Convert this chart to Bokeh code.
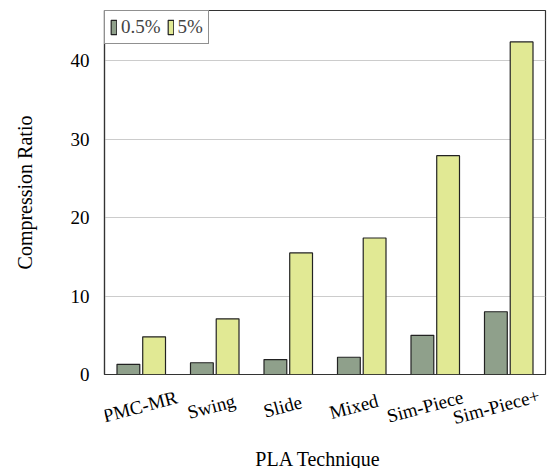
from bokeh.plotting import figure
from bokeh.layouts import column
from bokeh.models import ColumnDataSource, FactorRange, Range1d, FixedTicker, Legend, LegendItem
from bokeh.core.properties import value
from bokeh.transform import dodge
from bokeh.embed import file_html
from bokeh.resources import INLINE

categories = ["PMC-MR", "Swing", "Slide", "Mixed", "Sim-Piece", "Sim-Piece+"]
ratio_05 = [1.3, 1.5, 1.9, 2.2, 5.0, 8.0]
ratio_5 = [4.8, 7.1, 15.5, 17.4, 27.9, 42.4]
y_ticks = [0, 10, 20, 30, 40]

FONT = "Liberation Serif"
W = 559
LEFT, RIGHT = 104, 14

src = ColumnDataSource(dict(cat=categories, a=ratio_05, b=ratio_5))
xr = FactorRange(factors=categories, range_padding=0)

p = figure(width=W, height=386, output_backend="svg", toolbar_location=None,
           x_range=xr, y_range=Range1d(0, 46.4), min_border_left=LEFT,
           min_border_right=RIGHT, min_border_top=10, min_border_bottom=12)

r1 = p.vbar(x=dodge("cat", -0.175, range=xr), top="a", width=0.31, source=src,
            fill_color="#8fa08b", line_color="#222222", line_width=1.2)
r2 = p.vbar(x=dodge("cat", 0.175, range=xr), top="b", width=0.31, source=src,
            fill_color="#e1e994", line_color="#222222", line_width=1.2)

p.outline_line_color = "#333333"
p.outline_line_width = 1.2
p.xgrid.grid_line_color = None
p.ygrid.grid_line_color = "#cccccc"
p.ygrid.grid_line_width = 1
p.xaxis.visible = False

p.yaxis.ticker = FixedTicker(ticks=y_ticks)
p.yaxis.minor_tick_line_color = None
p.yaxis.major_tick_line_color = None
p.yaxis.axis_line_color = "#333333"
p.yaxis.axis_line_width = 1.2
p.yaxis.major_label_text_font = FONT
p.yaxis.major_label_text_font_size = "19px"
p.yaxis.major_label_text_color = "black"
p.yaxis.major_label_standoff = 9
p.yaxis.axis_label = "Compression Ratio"
p.yaxis.axis_label_text_font = FONT
p.yaxis.axis_label_text_font_size = "20px"
p.yaxis.axis_label_text_font_style = "normal"
p.yaxis.axis_label_text_color = "black"
p.yaxis.axis_label_standoff = 32

legend = Legend(items=[LegendItem(label="0.5%", renderers=[r1]),
                       LegendItem(label="5%", renderers=[r2])],
                location="top_left", orientation="horizontal")
legend.margin = 0
legend.padding = 5
legend.spacing = 6
legend.glyph_width = 7
legend.glyph_height = 18
legend.label_standoff = 4
legend.label_text_font = FONT
legend.label_text_font_size = "19px"
legend.border_line_color = "#222222"
legend.border_line_width = 1.2
legend.background_fill_alpha = 1
p.add_layout(legend)

# strip below the chart carrying the rotated category labels and the x title;
# its x scale continues the chart's category scale into the right margin
n = len(categories)
frame_w = W - LEFT - RIGHT
strip_end = n * (W - LEFT) / frame_w
SH = 82
q = figure(width=W, height=SH, output_backend="svg", toolbar_location=None,
           x_range=Range1d(0, strip_end), y_range=Range1d(SH, 0),
           min_border_left=LEFT, min_border_right=0, min_border_top=0,
           min_border_bottom=0)
q.axis.visible = False
q.grid.grid_line_color = None
q.outline_line_color = None
lab_src = ColumnDataSource(dict(x=[i + 0.5 for i in range(n)], text=categories,
                                y=[20] * n))
q.text(x="x", y="y", text="text", source=lab_src, angle=0.26,
       text_align="center", text_baseline="middle",
       text_font=value(FONT), text_font_size="19px", text_color="black")
q.text(x=[n / 2], y=[72], text=["PLA Technique"],
       text_align="center", text_baseline="middle",
       text_font=value(FONT), text_font_size="20px", text_color="black")

layout = column(p, q, spacing=0)
open("out.html", "w").write(file_html(layout, INLINE))
